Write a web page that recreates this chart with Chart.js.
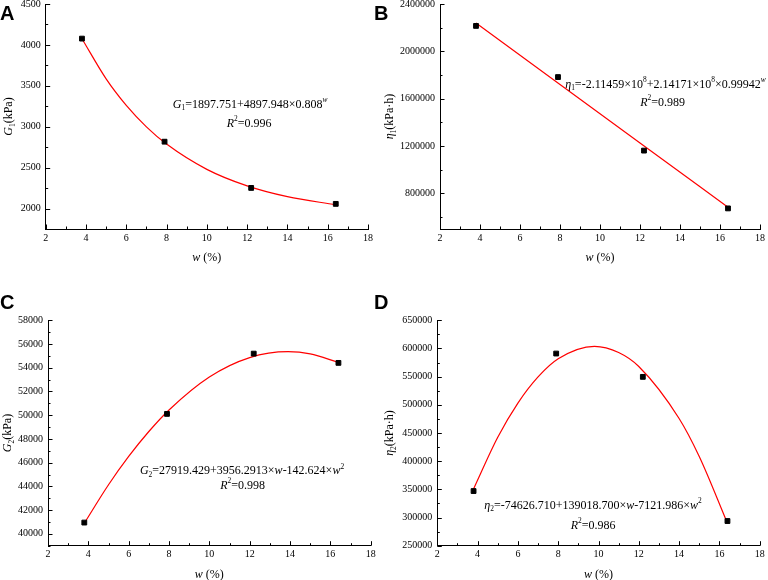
<!DOCTYPE html>
<html>
<head>
<meta charset="utf-8">
<script src="https://cdn.jsdelivr.net/npm/chart.js@4.4.1/dist/chart.umd.min.js"></script>
<style>
  html, body { margin: 0; padding: 0; background: #fff; }
  body { position: relative; width: 768px; height: 580px; overflow: hidden; }
  canvas { position: absolute; }
  .tag { position: absolute; font: bold 20px "Liberation Sans", Arial, sans-serif; line-height: 20px; color: #000; }
</style>
</head>
<body>
<canvas id="cA" width="384" height="300" style="left:0;top:-20px"></canvas>
<canvas id="cB" width="384" height="300" style="left:384px;top:-20px"></canvas>
<canvas id="cC" width="384" height="290" style="left:0;top:290px"></canvas>
<canvas id="cD" width="384" height="290" style="left:384px;top:290px"></canvas>
<div class="tag" style="left:0;top:3px">A</div>
<div class="tag" style="left:374px;top:3px">B</div>
<div class="tag" style="left:0;top:292px">C</div>
<div class="tag" style="left:374px;top:292px">D</div>
<script>
// measured water contents w (%)
const moisture = [3.8, 7.9, 12.2, 16.4]

// measured values, one list per panel
const g1Points = [4077, 2817, 2252, 2057]
const eta1Points = [2215000, 1783000, 1162000, 674000]
const g2Points = [40950, 50110, 55190, 54410]
const eta2Points = [347000, 591000, 549600, 293800]

// fitted curves
const g1FitW = [3.8, 5, 6, 7, 8, 10, 12, 14, 16.4]
const g1FitVals = [4076, 3585, 3261, 2999, 2788, 2479, 2277, 2145, 2046]
const eta1FitW = [3.8, 8, 12, 16.4]
const eta1FitVals = [2240000, 1720000, 1226000, 684000]
const g2FitW = [3.8, 5, 6, 7, 8, 10, 12, 13.9, 15, 16.4]
const g2FitVals = [40894, 44135, 46523, 48625, 50442, 53220, 54857, 55358, 55173, 54442]
const eta2FitW = [3.8, 5, 6, 7, 8, 9.8, 11, 12, 14, 15, 16.4]
const eta2FitVals = [350800, 442400, 503100, 549500, 581700, 603800, 592800, 568000, 475700, 408200, 289700]

// tick labels
const wTicks = [2, 4, 6, 8, 10, 12, 14, 16, 18]
const g1Ticks = [2000, 2500, 3000, 3500, 4000, 4500]
const eta1Ticks = [800000, 1200000, 1600000, 2000000, 2400000]
const g2Ticks = [40000, 42000, 44000, 46000, 48000, 50000, 52000, 54000, 56000, 58000]
const eta2Ticks = [250000, 300000, 350000, 400000, 450000, 500000, 550000, 600000, 650000]

// axis ranges [min, max, minor step]
const wAxis = [2, 18, 1]
const g1Axis = [1750, 4500, 250]
const eta1Axis = [500000, 2400000, 200000]
const g2Axis = [39000, 58000, 1000]
const eta2Axis = [250000, 650000, 25000]

const serif = 'Liberation Serif'

function fontOf(size, italic) {
    return (italic ? 'italic ' : '') + size + 'px "' + serif + '"'
}

// parts: [text, flags] with flags i = italic, s = subscript, p = superscript
function drawRich(ctx, parts, x, y, size, align) {
    let w = 0
    parts.forEach(p => {
        const f = p[1] || ''
        ctx.font = fontOf(/[sp]/.test(f) ? size * 0.62 : size, f.includes('i'))
        w += ctx.measureText(p[0]).width
    })
    let cx = align === 'left' ? x : x - w / 2
    ctx.textAlign = 'left'
    ctx.textBaseline = 'middle'
    ctx.fillStyle = '#000'
    parts.forEach(p => {
        const f = p[1] || ''
        ctx.font = fontOf(/[sp]/.test(f) ? size * 0.62 : size, f.includes('i'))
        const dy = f.includes('s') ? size * 0.3 : f.includes('p') ? -size * 0.36 : 0
        ctx.fillText(p[0], cx, y + dy)
        cx += ctx.measureText(p[0]).width
    })
}

function isOn(v, list) {
    return list.some(t => Math.abs(t - v) < 1e-6)
}

function decor(cfg) {
    return {
        id: 'decor',
        afterDraw(chart) {
            const ctx = chart.ctx
            const a = chart.chartArea
            const xs = chart.scales.x
            const ys = chart.scales.y
            ctx.save()
            // inward ticks, long for labelled ones, short for the minors
            ctx.strokeStyle = '#000'
            ctx.lineWidth = 1
            ctx.beginPath()
            for (let k = Math.ceil(wAxis[0] / wAxis[2] - 1e-9); k * wAxis[2] <= wAxis[1] + 1e-9; k++) {
                const v = k * wAxis[2]
                const px = Math.round(xs.getPixelForValue(v)) + 0.5
                const len = isOn(v, wTicks) ? 4.5 : 2.5
                ctx.moveTo(px, a.bottom)
                ctx.lineTo(px, a.bottom - len)
            }
            const yr = cfg.yAxis
            for (let k = Math.ceil(yr[0] / yr[2] - 1e-9); k * yr[2] <= yr[1] + 1e-9; k++) {
                const v = k * yr[2]
                const py = Math.round(ys.getPixelForValue(v)) + 0.5
                const len = isOn(v, cfg.yTicks) ? 4.5 : 2.5
                ctx.moveTo(a.left, py)
                ctx.lineTo(a.left + len, py)
            }
            ctx.stroke()

            // axis titles
            drawRich(ctx, [['w', 'i'], [' (%)']], (a.left + a.right) / 2, a.bottom + 29, 12)
            ctx.save()
            ctx.translate(cfg.yTitleX, (a.top + a.bottom) / 2)
            ctx.rotate(-Math.PI / 2)
            drawRich(ctx, cfg.yTitle, 0, 0, 12)
            ctx.restore()

            // fit equations
            cfg.notes.forEach(n => {
                drawRich(ctx, n.parts, xs.getPixelForValue(n.at[0]), ys.getPixelForValue(n.at[1]), 12, n.align)
            })
            ctx.restore()
        }
    }
}

function panel(element, cfg) {
    const ctx = document.getElementById(element).getContext('2d')
    return new Chart(ctx, {
        type: 'scatter',
        data: {
            datasets: [{
                data: cfg.fitW.map((w, i) => ({ x: w, y: cfg.fitVals[i] })),
                showLine: true,
                borderColor: '#ff0000',
                borderWidth: 1.2,
                pointRadius: 0,
                cubicInterpolationMode: 'monotone',
                order: 1
            }, {
                data: moisture.map((w, i) => ({ x: w, y: cfg.points[i] })),
                pointStyle: 'rect',
                pointRadius: 3.4,
                backgroundColor: '#000',
                borderColor: '#000',
                borderWidth: 1,
                order: 0
            }]
        },
        options: {
            responsive: false,
            animation: false,
            events: [],
            layout: { padding: { top: cfg.padTop, right: cfg.padRight, left: 0, bottom: 0 } },
            plugins: { legend: { display: false }, tooltip: { enabled: false } },
            scales: {
                x: {
                    type: 'linear',
                    min: wAxis[0],
                    max: wAxis[1],
                    afterBuildTicks: s => { s.ticks = wTicks.map(v => ({ value: v })) },
                    ticks: {
                        autoSkip: false,
                        maxRotation: 0,
                        padding: 3,
                        color: '#000',
                        font: { family: serif, size: 10 },
                        callback: v => String(v)
                    },
                    grid: { display: false, drawTicks: false },
                    border: { color: '#000', width: 1 },
                    afterFit: s => { s.height = cfg.xH }
                },
                y: {
                    type: 'linear',
                    min: cfg.yAxis[0],
                    max: cfg.yAxis[1],
                    afterBuildTicks: s => { s.ticks = cfg.yTicks.map(v => ({ value: v })) },
                    ticks: {
                        autoSkip: false,
                        padding: 5,
                        color: '#000',
                        font: { family: serif, size: 10 },
                        callback: v => String(v)
                    },
                    grid: { display: false, drawTicks: false },
                    border: { color: '#000', width: 1 },
                    afterFit: s => { s.width = cfg.yW }
                }
            }
        },
        plugins: [decor(cfg)]
    })
}

panel('cA', {
    points: g1Points, fitW: g1FitW, fitVals: g1FitVals, yAxis: g1Axis, yTicks: g1Ticks,
    padTop: 24, padRight: 16, yW: 45.7, xH: 51, yTitleX: 9,
    yTitle: [['G', 'i'], ['1', 's'], ['(kPa)']],
    notes: [
        { at: [12.15, 3268], parts: [['G', 'i'], ['1', 's'], ['=1897.751+4897.948×0.808'], ['w', 'ip']] },
        { at: [12.1, 3040], parts: [['R', 'i'], ['2', 'p'], ['=0.996']] }
    ]
})

panel('cB', {
    points: eta1Points, fitW: eta1FitW, fitVals: eta1FitVals, yAxis: eta1Axis, yTicks: eta1Ticks,
    padTop: 24, padRight: 6, yW: 56, xH: 51, yTitleX: 6,
    yTitle: [['η', 'i'], ['1', 's'], ['(kPa·h)']],
    notes: [
        { at: [8.26, 1718000], align: 'left', parts: [['η', 'i'], ['1', 's'], ['=-2.11459×10'], ['8', 'p'], ['+2.14171×10'], ['8', 'p'], ['×0.99942'], ['w', 'ip']] },
        { at: [13.13, 1566000], parts: [['R', 'i'], ['2', 'p'], ['=0.989']] }
    ]
})

panel('cC', {
    points: g2Points, fitW: g2FitW, fitVals: g2FitVals, yAxis: g2Axis, yTicks: g2Ticks,
    padTop: 30.3, padRight: 13.3, yW: 48, xH: 34.3, yTitleX: 8,
    yTitle: [['G', 'i'], ['2', 's'], ['(kPa)']],
    notes: [
        { at: [11.62, 45300], parts: [['G', 'i'], ['2', 's'], ['=27919.429+3956.2913×'], ['w', 'i'], ['-142.624×'], ['w', 'i'], ['2', 'p']] },
        { at: [11.65, 44050], parts: [['R', 'i'], ['2', 'p'], ['=0.998']] }
    ]
})

panel('cD', {
    points: eta2Points, fitW: eta2FitW, fitVals: eta2FitVals, yAxis: eta2Axis, yTicks: eta2Ticks,
    padTop: 30.3, padRight: 8.3, yW: 53.3, xH: 34.3, yTitleX: 6,
    yTitle: [['η', 'i'], ['2', 's'], ['(kPa·h)']],
    notes: [
        { at: [9.73, 321300], parts: [['η', 'i'], ['2', 's'], ['=-74626.710+139018.700×'], ['w', 'i'], ['-7121.986×'], ['w', 'i'], ['2', 'p']] },
        { at: [9.73, 285800], parts: [['R', 'i'], ['2', 'p'], ['=0.986']] }
    ]
})
</script>
</body>
</html>
